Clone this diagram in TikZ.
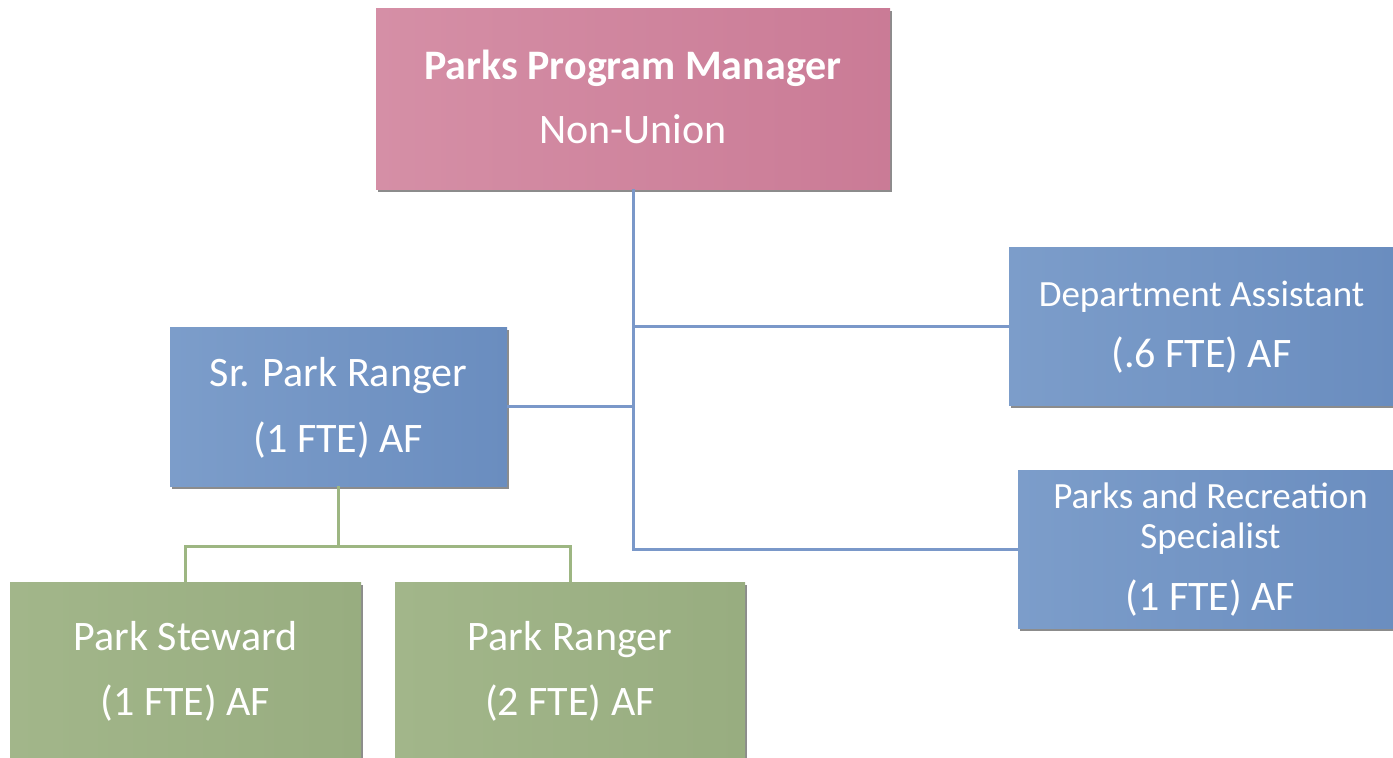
\documentclass[tikz,border=0pt]{standalone}
\usepackage{fontspec}
\setmainfont{Carlito}
\usetikzlibrary{shadows}

\definecolor{pinkL}{HTML}{D58FA6}
\definecolor{pinkM}{HTML}{CD809A}
\definecolor{pinkR}{HTML}{CA7B96}
\definecolor{blueL}{HTML}{7C9DCA}
\definecolor{blueM}{HTML}{6D91C2}
\definecolor{blueR}{HTML}{6A8DBF}
\definecolor{greenL}{HTML}{A2B68A}
\definecolor{greenM}{HTML}{9BB083}
\definecolor{greenR}{HTML}{98AD80}
\definecolor{blueline}{HTML}{7A98C9}
\definecolor{greenline}{HTML}{9DB682}

\tikzset{
  box/.style={rectangle, inner sep=0pt,
    drop shadow={shadow xshift=2pt, shadow yshift=-3pt, opacity=0.6, fill=black!75}},
  pinkbox/.style={box, left color=pinkL, middle color=pinkM, right color=pinkR},
  bluebox/.style={box, left color=blueL, middle color=blueM, right color=blueR},
  greenbox/.style={box, left color=greenL, middle color=greenM, right color=greenR},
  lbl/.style={anchor=base, text=white, inner sep=0pt, font=\fontsize{42}{50}\selectfont},
  smalllbl/.style={lbl, font=\fontsize{37}{44}\selectfont},
  bline/.style={draw=blueline, line width=3pt},
  gline/.style={draw=greenline, line width=3pt},
}

\begin{document}
\begin{tikzpicture}[x=1pt, y=-1pt]
  \useasboundingbox[fill=white] (0,0) rectangle (1393,758);
  \clip (0,0) rectangle (1393,758);

  % boxes
  \node[pinkbox, minimum width=514pt, minimum height=181pt] (mgr) at (633,98.5) {};
  \node[bluebox, minimum width=337pt, minimum height=159pt] (sr) at (338.5,406.5) {};
  \node[bluebox, minimum width=385pt, minimum height=158pt] (dept) at (1201.5,326) {};
  \node[bluebox, minimum width=385pt, minimum height=158pt] (spec) at (1210.5,549) {};
  \node[greenbox, minimum width=351pt, minimum height=176pt] (stew) at (185.5,670) {};
  \node[greenbox, minimum width=350pt, minimum height=176pt] (rang) at (570,670) {};

  % blue reporting lines
  \draw[bline] (mgr.south) |- (spec.west);
  \draw[bline] (mgr.south |- dept.west) -- (dept.west);
  \draw[bline] (sr.east) -- (mgr.south |- sr.east);

  % green reporting lines
  \coordinate (gbus) at (338.5,546);
  \draw[gline] (sr.south) -- (gbus);
  \draw[gline] (stew.north) |- (gbus) -| (rang.north);

  % labels
  \node[lbl] (mgrA) at (633,79) {\bfseries Parks Program Manager};
  \node[lbl] (mgrB) at (633,143) {Non-Union};

  \node[lbl] (srA) at (338.5,386) {Sr. Park Ranger};
  \node[lbl] (srB) at (338.5,452) {(1 FTE) AF};

  \node[smalllbl] (deptA) at (1201.5,306) {Department Assistant};
  \node[lbl] (deptB) at (1201.5,367) {(.6 FTE) AF};

  \node[smalllbl] (specA) at (1210.5,508) {Parks and Recreation};
  \node[smalllbl] (specB) at (1210.5,548) {Specialist};
  \node[lbl] (specC) at (1210.5,610) {(1 FTE) AF};

  \node[lbl] (stewA) at (185.5,650) {Park Steward};
  \node[lbl] (stewB) at (185.5,715) {(1 FTE) AF};

  \node[lbl] (rangA) at (570,650) {Park Ranger};
  \node[lbl] (rangB) at (570,715) {(2 FTE) AF};
\end{tikzpicture}
\end{document}
